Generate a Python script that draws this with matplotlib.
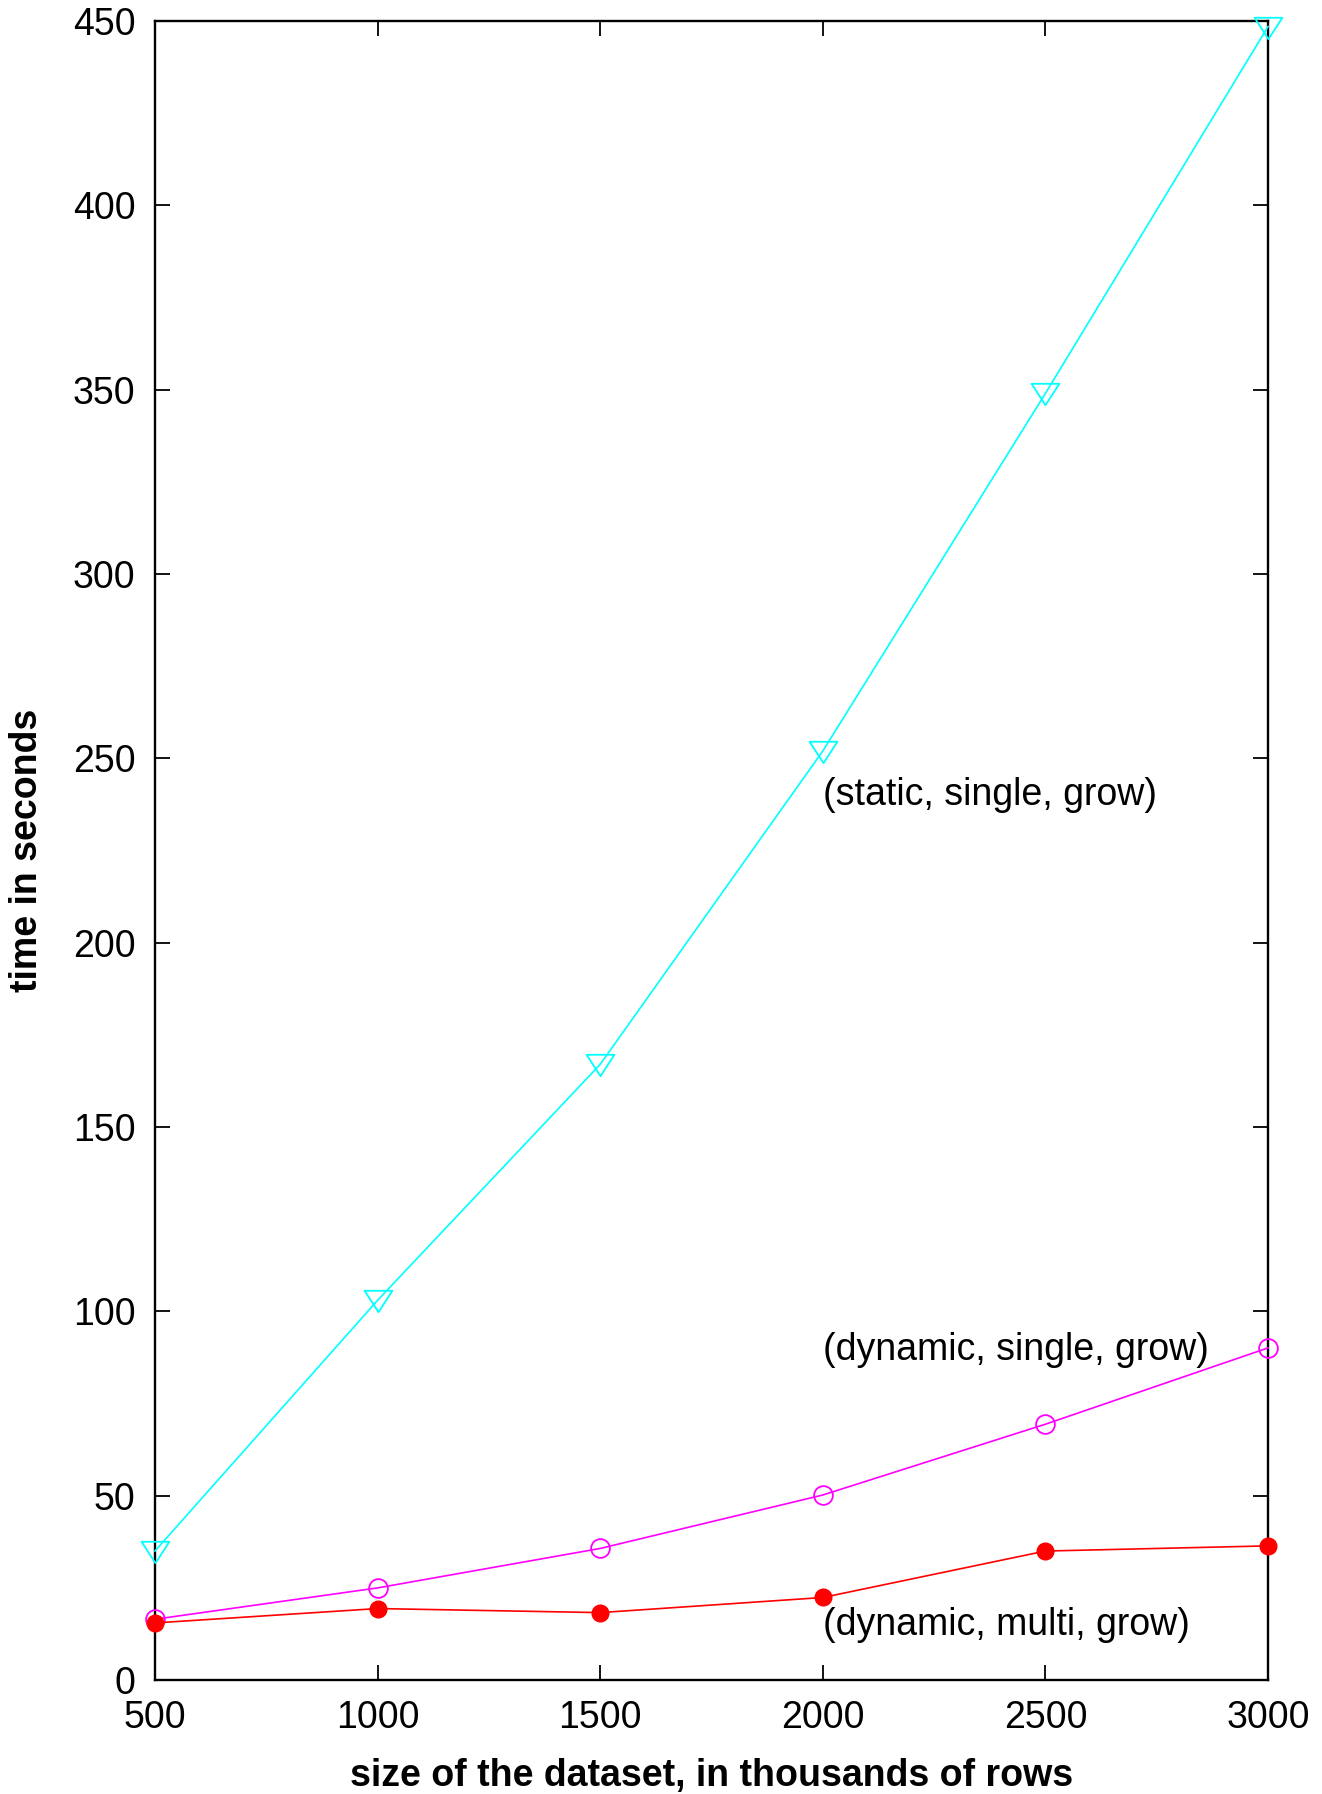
import matplotlib
matplotlib.use('Agg')
import matplotlib.pyplot as plt
from matplotlib.path import Path

# dataset size, thousands of rows
sizes = [500, 1000, 1500, 2000, 2500, 3000]

# time in seconds
static_single_grow = [35, 103, 167, 252, 349, 448.5]
dynamic_single_grow = [16.5, 25.0, 35.7, 50.2, 69.4, 90.1]
dynamic_multi_grow = [15.5, 19.4, 18.3, 22.4, 35.0, 36.4]

labels = ['(static, single, grow)', '(dynamic, single, grow)', '(dynamic, multi, grow)']
label_y = [240, 89.5, 15]

plt.rcParams['font.family'] = ['Liberation Sans', 'DejaVu Sans']

# gnuplot style triangle: wider than tall
tri = Path([(-1, 0.7), (1, 0.7), (0, -0.84), (-1, 0.7)],
           [Path.MOVETO, Path.LINETO, Path.LINETO, Path.CLOSEPOLY])

fig = plt.figure(figsize=(13.22, 17.94), dpi=100)
ax = fig.add_axes([0.1172, 0.0635, 0.9592 - 0.1172, 0.9883 - 0.0635])

ax.plot(sizes, static_single_grow, color='#00ffff', lw=1.2, marker=tri,
        markersize=20, markerfacecolor='none', markeredgecolor='#00ffff', mew=1.3,
        clip_on=False, zorder=3)
ax.plot(sizes, dynamic_single_grow, color='#ff00ff', lw=1.2, marker='o',
        markersize=13.5, markerfacecolor='none', markeredgecolor='#ff00ff', mew=1.3,
        clip_on=False, zorder=3)
ax.plot(sizes, dynamic_multi_grow, color='#ff0000', lw=1.2, marker='o',
        markersize=12, markerfacecolor='#ff0000', markeredgecolor='#ff0000',
        clip_on=False, zorder=3)

for text, y in zip(labels, label_y):
    ax.text(2000, y, text, fontsize=27, ha='left', va='center')

ax.set_xlim(500, 3000)
ax.set_ylim(0, 450)
ax.set_xticks(sizes)
ax.set_yticks(range(0, 451, 50))
ax.tick_params(direction='in', length=11, width=1.3, labelsize=27, pad=14,
               top=True, right=True)
for s in ax.spines.values():
    s.set_linewidth(1.7)

ax.set_xlabel('size of the dataset, in thousands of rows', fontsize=27,
              fontweight='bold', labelpad=16)
ax.set_ylabel('time in seconds', fontsize=27, fontweight='bold', labelpad=20)

fig.savefig('out.png', dpi=100)
